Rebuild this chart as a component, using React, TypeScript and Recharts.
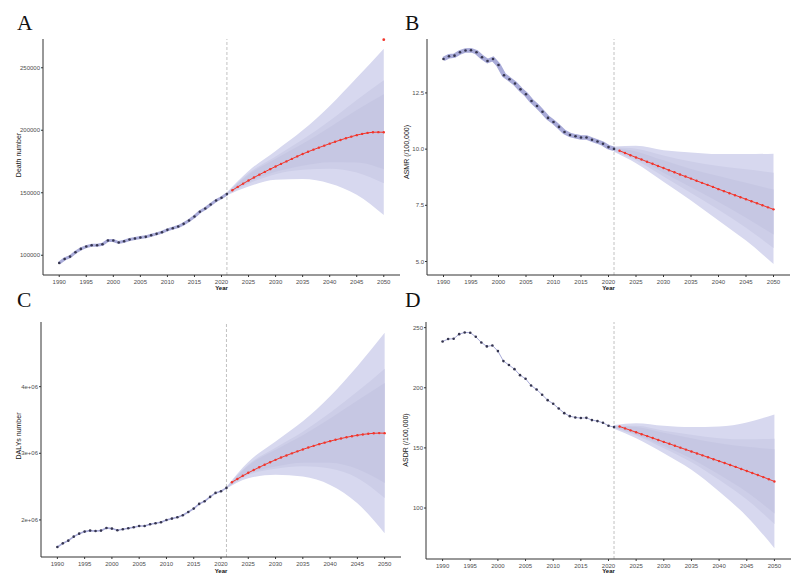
import React from 'react'
import { ComposedChart, Line, Area, XAxis, YAxis, ReferenceLine } from 'recharts'

// x categories
const histYears = Array.from({ length: 32 }, (_, i) => 1990 + i)
const forecastYears = Array.from({ length: 29 }, (_, i) => 2022 + i)
const bandYears = [2021, 2025, 2030, 2035, 2040, 2045, 2050]
const yearTicks = [1990, 1995, 2000, 2005, 2010, 2015, 2020, 2025, 2030, 2035, 2040, 2045, 2050]

// A: deaths
const deathHist = [93850, 97060, 98930, 102400, 105080, 106950, 108020, 108020, 108820, 111770, 111770, 110160, 111230, 112570, 113370, 114170, 114710, 116040, 117110, 118450, 120320, 121660, 123000, 125130, 127810, 131020, 134760, 137440, 140640, 143850, 145990, 148930]
const deathForecast = [152000, 154700, 157300, 159800, 162200, 164500, 166700, 168900, 171000, 173100, 175100, 177100, 179100, 181000, 182800, 184500, 186100, 187700, 189300, 190800, 192200, 193600, 194900, 196100, 197100, 197900, 198400, 198500, 198400]
const deathOuter = [[148000, 150500], [155000, 167500], [160500, 183500], [161000, 200000], [157500, 219500], [148500, 242000], [132300, 265300]]
const deathMid = [[148500, 150000], [157300, 165700], [164900, 179100], [168400, 192600], [169300, 207700], [166300, 224300], [157600, 240000]]
const deathInner = [[148800, 149600], [158500, 164500], [166800, 177200], [171700, 189300], [174500, 202500], [174300, 216300], [168800, 228800]]
const deathTopPoint = [{ year: 2050, value: 272500 }]

// B: age-standardised mortality rate
const asmrHist = [14.01, 14.13, 14.16, 14.31, 14.39, 14.4, 14.31, 14.09, 13.92, 14.01, 13.74, 13.29, 13.11, 12.92, 12.66, 12.44, 12.14, 11.92, 11.66, 11.39, 11.21, 10.99, 10.76, 10.63, 10.57, 10.52, 10.52, 10.42, 10.34, 10.24, 10.09, 10.01]
const asmrForecast = [9.93, 9.83, 9.73, 9.63, 9.54, 9.44, 9.35, 9.25, 9.16, 9.06, 8.97, 8.87, 8.78, 8.69, 8.59, 8.5, 8.41, 8.32, 8.22, 8.13, 8.04, 7.95, 7.86, 7.77, 7.68, 7.59, 7.5, 7.41, 7.32]
const asmrOuter = [[9.88, 10.12], [9.37, 10.15], [8.55, 9.95], [7.72, 9.85], [6.83, 9.78], [5.93, 9.78], [4.89, 9.8]]
const asmrMid = [[9.92, 10.08], [9.5, 10.02], [8.78, 9.72], [8.05, 9.45], [7.3, 9.25], [6.5, 9.1], [5.6, 8.95]]
const asmrInner = [[9.95, 10.05], [9.6, 9.9], [8.95, 9.5], [8.3, 9.12], [7.65, 8.8], [6.95, 8.5], [6.2, 8.2]]

// C: DALYs
const dalyHist = [1594000, 1649000, 1689000, 1749000, 1794000, 1825000, 1840000, 1835000, 1840000, 1880000, 1870000, 1845000, 1860000, 1875000, 1890000, 1910000, 1910000, 1935000, 1950000, 1965000, 2000000, 2020000, 2040000, 2070000, 2120000, 2170000, 2241000, 2281000, 2346000, 2406000, 2431000, 2481000]
const dalyForecast = [2566000, 2615000, 2662000, 2707000, 2749000, 2790000, 2829000, 2866000, 2902000, 2936000, 2968000, 2999000, 3029000, 3058000, 3086000, 3112000, 3137000, 3160000, 3182000, 3203000, 3222000, 3240000, 3256000, 3270000, 3283000, 3293000, 3300000, 3303000, 3302000]
const dalyOuter = [[2470000, 2495000], [2627000, 2870000], [2677000, 3178000], [2652000, 3479000], [2526000, 3855000], [2250000, 4306000], [1800000, 4807000]]
const dalyMid = [[2475000, 2490000], [2673000, 2831000], [2769000, 3085000], [2805000, 3325000], [2772000, 3608000], [2630000, 3926000], [2330000, 4270000]]
const dalyInner = [[2478000, 2487000], [2690000, 2814000], [2802000, 3052000], [2859000, 3271000], [2858000, 3522000], [2764000, 3792000], [2553000, 4053000]]

// D: age-standardised DALY rate
const asdrHist = [238.5, 240.5, 240.8, 244.6, 246.0, 245.8, 242.4, 237.7, 234.4, 235.2, 230.5, 222.2, 218.9, 215.5, 210.5, 207.5, 201.9, 198.6, 194.2, 189.7, 186.7, 182.8, 178.9, 176.4, 175.3, 174.8, 175.0, 173.1, 172.3, 170.9, 168.4, 167.3]
const asdrForecast = [167.8, 166.2, 164.6, 163.0, 161.4, 159.8, 158.2, 156.6, 155.0, 153.4, 151.8, 150.2, 148.6, 147.0, 145.4, 143.8, 142.2, 140.6, 139.0, 137.4, 135.8, 134.2, 132.5, 130.8, 129.1, 127.4, 125.7, 123.9, 122.1]
const asdrOuter = [[166.0, 169.0], [158.1, 170.6], [145.6, 168.4], [131.8, 167.3], [113.8, 167.8], [93.0, 171.2], [66.6, 177.8]]
const asdrMid = [[166.5, 168.5], [160.35, 168.35], [149.7, 164.3], [138.15, 160.95], [123.5, 158.1], [107.1, 157.1], [86.7, 157.7]]
const asdrInner = [[167.0, 168.0], [161.35, 167.35], [151.5, 162.5], [141.05, 158.05], [127.8, 153.8], [113.3, 150.9], [95.5, 148.9]]

const toPoints = (years: number[], values: number[]) => years.map((year, i) => ({ year, value: values[i] }))
const toBand = (band: number[][]) => bandYears.map((year, i) => ({ year, range: band[i] }))

const FONT = '"Liberation Sans", Arial, sans-serif'
const tickStyle = { fontSize: 6, fill: '#4d4d4d', fontFamily: FONT }

type PanelProps = {
  left: number
  top: number
  width: number
  height: number
  marginTop: number
  marginRight: number
  yAxisWidth: number
  xAxisHeight: number
  yDomain: [number, number]
  yTicks: number[]
  tickFmt: (v: number) => string
  yTitle: string
  yTitleX: number
  yTitleY: number
  yearDy: number
  histWidth: number
  hist: number[]
  forecast: number[]
  outer: number[][]
  mid: number[][]
  inner: number[][]
  extra?: { year: number; value: number }[]
}

function Panel(p: PanelProps) {
  const plotBottom = p.height - p.xAxisHeight
  const plotCenterX = p.yAxisWidth + (p.width - p.marginRight - p.yAxisWidth) / 2
  return (
    <div style={{ position: 'absolute', left: p.left, top: p.top }}>
      <ComposedChart
        width={p.width}
        height={p.height}
        margin={{ top: p.marginTop, right: p.marginRight, left: 0, bottom: 0 }}
        style={{ fontFamily: FONT }}
      >
        <XAxis
          type="number"
          dataKey="year"
          domain={[1987, 2053]}
          ticks={yearTicks}
          height={p.xAxisHeight}
          tick={tickStyle}
          tickSize={2}
          tickMargin={3}
          stroke="#333"
          label={() => (
            <text x={plotCenterX} y={plotBottom + p.yearDy} textAnchor="middle" fontSize={6} fontWeight="bold" fill="#111" fontFamily={FONT}>
              Year
            </text>
          )}
        />
        <YAxis
          type="number"
          domain={p.yDomain}
          ticks={p.yTicks}
          width={p.yAxisWidth}
          tick={tickStyle}
          tickSize={2}
          tickMargin={1}
          tickFormatter={p.tickFmt}
          stroke="#333"
          label={() => (
            <text
              x={p.yTitleX}
              y={p.yTitleY}
              transform={`rotate(-90 ${p.yTitleX} ${p.yTitleY})`}
              textAnchor="middle"
              fontSize={7}
              fill="#111"
              fontFamily={FONT}
            >
              {p.yTitle}
            </text>
          )}
        />
        <Area data={toBand(p.outer)} dataKey="range" type="monotone" fill="#d7d8ef" fillOpacity={1} stroke="none" isAnimationActive={false} />
        <Area data={toBand(p.mid)} dataKey="range" type="monotone" fill="#cdcee8" fillOpacity={1} stroke="none" isAnimationActive={false} />
        <Area data={toBand(p.inner)} dataKey="range" type="monotone" fill="#c6c7e3" fillOpacity={1} stroke="none" isAnimationActive={false} />
        <ReferenceLine x={2021} stroke="#b3b3b3" strokeWidth={0.8} strokeDasharray="3 2" />
        <Line
          data={toPoints(histYears, p.hist)}
          dataKey="value"
          stroke="#a9abd8"
          strokeWidth={p.histWidth}
          dot={{ r: 1.3, fill: '#35354f', stroke: 'none' }}
          isAnimationActive={false}
        />
        <Line
          data={toPoints(forecastYears, p.forecast)}
          dataKey="value"
          stroke="#f2352b"
          strokeWidth={1}
          dot={{ r: 1.2, fill: '#f2352b', stroke: 'none' }}
          isAnimationActive={false}
        />
        {p.extra && (
          <Line
            data={p.extra}
            dataKey="value"
            stroke="none"
            dot={{ r: 1.4, fill: '#f2352b', stroke: 'none' }}
            isAnimationActive={false}
          />
        )}
      </ComposedChart>
    </div>
  )
}

const letters = [
  { t: 'A', x: 17, y: 29.5 },
  { t: 'B', x: 405, y: 29.5 },
  { t: 'C', x: 17, y: 306.5 },
  { t: 'D', x: 405, y: 306.5 },
]

export default function App() {
  return (
    <div style={{ position: 'absolute', left: 0, top: 0, width: 800, height: 587, background: '#fff', overflow: 'hidden' }}>
      <Panel
        left={0} top={0} width={400} height={295} marginTop={39} marginRight={0} yAxisWidth={43} xAxisHeight={20}
        yDomain={[84200, 273000]} yTicks={[100000, 150000, 200000, 250000]} tickFmt={v => String(v)}
        yTitle="Death number" yTitleX={21.3} yTitleY={155} yearDy={14.5} histWidth={3}
        hist={deathHist} forecast={deathForecast} outer={deathOuter} mid={deathMid} inner={deathInner} extra={deathTopPoint}
      />
      <Panel
        left={400} top={0} width={400} height={295} marginTop={39} marginRight={10} yAxisWidth={27} xAxisHeight={20}
        yDomain={[4.4, 14.9]} yTicks={[5, 7.5, 10, 12.5]} tickFmt={v => v.toFixed(1)}
        yTitle="ASMR (/100,000)" yTitleX={9.2} yTitleY={152} yearDy={14.5} histWidth={4.5}
        hist={asmrHist} forecast={asmrForecast} outer={asmrOuter} mid={asmrMid} inner={asmrInner}
      />
      <Panel
        left={0} top={290} width={401} height={295} marginTop={32} marginRight={0} yAxisWidth={41} xAxisHeight={28}
        yDomain={[1444000, 4970000]} yTicks={[2000000, 3000000, 4000000]} tickFmt={v => `${v / 1e6}e+06`}
        yTitle="DALYs number" yTitleX={20.5} yTitleY={146} yearDy={16.2} histWidth={1.6}
        hist={dalyHist} forecast={dalyForecast} outer={dalyOuter} mid={dalyMid} inner={dalyInner}
      />
      <Panel
        left={400} top={290} width={400} height={295} marginTop={32} marginRight={9} yAxisWidth={26} xAxisHeight={26}
        yDomain={[57.6, 254.7]} yTicks={[100, 150, 200, 250]} tickFmt={v => String(v)}
        yTitle="ASDR (/100,000)" yTitleX={8.3} yTitleY={150} yearDy={14.2} histWidth={1}
        hist={asdrHist} forecast={asdrForecast} outer={asdrOuter} mid={asdrMid} inner={asdrInner}
      />
      <svg width={800} height={587} style={{ position: 'absolute', left: 0, top: 0, pointerEvents: 'none' }}>
        {letters.map(l => (
          <text key={l.t} x={l.x} y={l.y} fontSize={21.5} fontFamily='"Liberation Serif", "Times New Roman", serif' fill="#111">
            {l.t}
          </text>
        ))}
      </svg>
    </div>
  )
}
